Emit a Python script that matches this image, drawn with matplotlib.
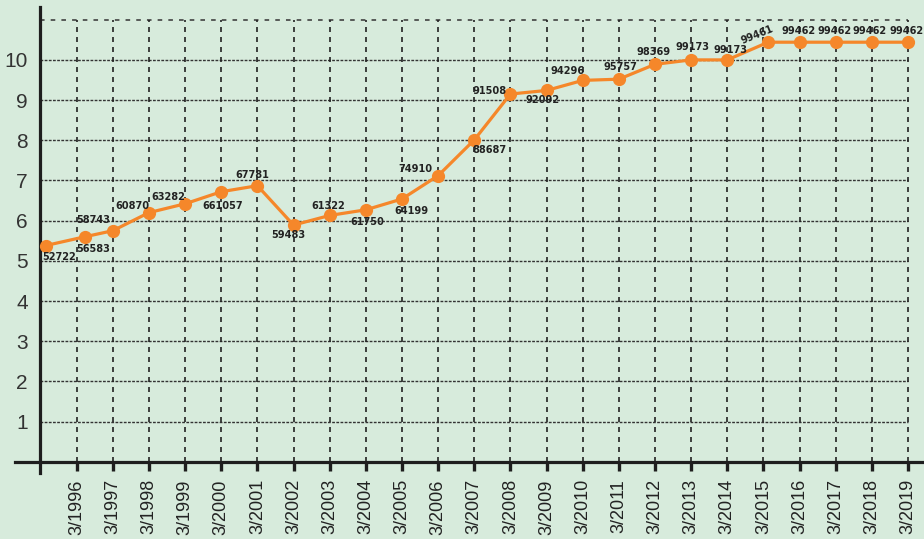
import matplotlib
matplotlib.use("Agg")
import matplotlib.pyplot as plt

# data
x_pos = [0.14, 1.23, 2, 3, 4, 5, 6, 7, 8, 9, 10, 11, 12, 13, 14, 15, 16, 17,
         18, 19, 20.13, 21, 22, 23, 24]
y_vals = [5.38, 5.60, 5.75, 6.20, 6.42, 6.72, 6.87, 5.89, 6.13, 6.27, 6.54,
          7.12, 8.01, 9.15, 9.24, 9.49, 9.52, 9.89, 10.0, 10.0, 10.44, 10.44,
          10.44, 10.44, 10.44]
labels = ["52722", "56583", "58743", "60870", "63282", "661057", "67781",
          "59483", "61322", "61750", "64199", "74910", "88687", "91508",
          "92092", "94296", "95757", "98369", "99173", "99173", "99461",
          "99462", "99462", "99462", "99462"]
years = [f"3/{y}" for y in range(1996, 2020)]
y_ticks = list(range(1, 11))

# label offsets in points (dx, dy) from each marker
offsets = [(10, -8), (6, -9), (-14, 8), (-12, 5), (-12, 5), (1, -10), (-4, 8),
           (-4, -7), (-1, 7), (1, -9), (7, -9), (-16, 5), (11, -7), (-15, 2),
           (-3, -7), (-11, 7), (1, 9), (-1, 9), (1, 9), (2, 7), (-8, 5),
           (-1, 8), (-1, 8), (-2, 8), (-1, 8)]

bg = "#d7ebdc"
orange = "#f5872a"
ink = "#1e1e1e"

fig = plt.figure(figsize=(9.24, 5.39), dpi=100, facecolor=bg)
ax = fig.add_axes([0, 0, 1, 1], facecolor=bg)
ax.set_xlim(-1.12, 24.44)
ax.set_ylim(-1.92, 11.49)

# grid
ax.hlines(range(1, 11), 0, 24, colors="#333333", lw=1.0, linestyles=(0, (2, 1)), zorder=1)
ax.hlines([11], 0, 24, colors="#333333", lw=1.1, linestyles=(0, (3, 4)), zorder=1)
ax.vlines(range(1, 25), 0, 11, colors="#222222", lw=1.2, linestyles=(0, (3, 3)), zorder=1)

ax.plot(x_pos, y_vals, color=orange, lw=2.3, marker="o", ms=8.5, zorder=3)

for i, (x, y, t) in enumerate(zip(x_pos, y_vals, labels)):
    dx, dy = offsets[i]
    ax.annotate(t, (x, y), xytext=(dx, dy), textcoords="offset points",
                ha="center", va="center", fontsize=7.8, fontweight="bold",
                family="DejaVu Sans", fontstretch="condensed", color="#222222",
                rotation=22 if i == 20 else 0, zorder=4)

# axes
for s in ["top", "right"]:
    ax.spines[s].set_visible(False)
ax.spines["left"].set_position(("data", 0))
ax.spines["bottom"].set_position(("data", 0))
ax.spines["left"].set_bounds(-0.27, 11.32)
ax.spines["bottom"].set_bounds(-0.71, 24.44)
for s in ["left", "bottom"]:
    ax.spines[s].set_linewidth(2.3)
    ax.spines[s].set_color(ink)

ax.set_xticks(range(1, 25))
ax.set_xticklabels(years, rotation=90, fontsize=13, family="Liberation Sans", color="#222222")
ax.tick_params(axis="x", direction="out", length=6.5, width=2.4, color=ink, pad=6)
ax.set_yticks(y_ticks)
ax.set_yticklabels([str(v) for v in y_ticks], fontsize=15, family="Liberation Sans", color="#333333")
ax.tick_params(axis="y", length=0, pad=9)

fig.savefig("out.png", dpi=100, facecolor=bg)
